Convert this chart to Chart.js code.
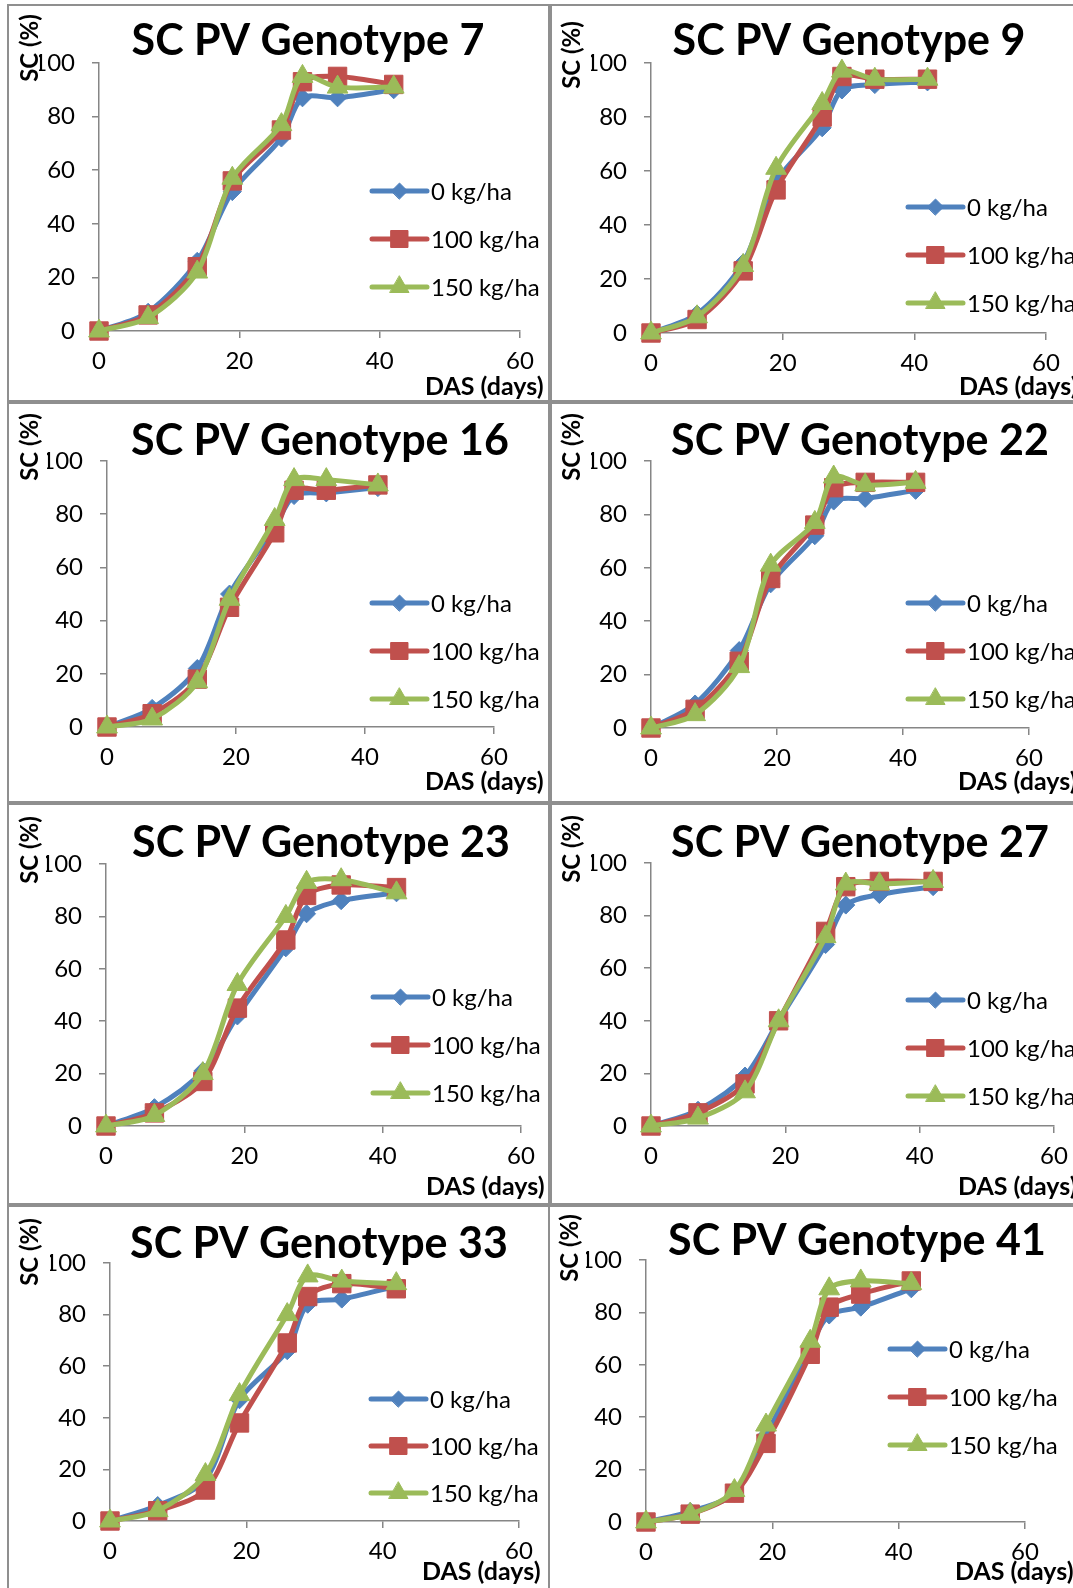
<!DOCTYPE html>
<html>
<head>
<meta charset="utf-8">
<script src="https://cdn.jsdelivr.net/npm/chart.js@4.4.0/dist/chart.umd.min.js"></script>
<style>
  html, body { margin: 0; padding: 0; background: #fff; }
  #page { position: relative; width: 1073px; height: 1588px; overflow: hidden; background: #fff; }
  .frame { position: absolute; box-sizing: border-box; border: 2px solid #8f8f8f; }
  canvas { position: absolute; }
</style>
</head>
<body>
<div id="page"></div>
<script>
// shared axes
const das = [0, 7, 14, 19, 26, 29, 34, 42];
const xTicks = [0, 20, 40, 60];
const yTicks = [0, 20, 40, 60, 80, 100];
const seriesLabels = ['0 kg/ha', '100 kg/ha', '150 kg/ha'];
const genotypes = ['7', '9', '16', '22', '23', '27', '33', '41'];

// SC (%) per genotype, one array per N rate
const g7_0 = [0, 7, 26, 52, 72, 87, 87, 90];
const g7_100 = [0, 6, 24, 56, 75, 93, 95, 92];
const g7_150 = [0, 5, 22, 57, 77, 95, 91, 91];

const g9_0 = [0, 7, 26, 56, 76, 90, 92, 93];
const g9_100 = [0, 5, 23, 53, 80, 95, 94, 94];
const g9_150 = [0, 6, 25, 61, 85, 97, 94, 94];

const g16_0 = [0, 7, 22, 50, 75, 87, 88, 90];
const g16_100 = [0, 5, 18, 45, 73, 89, 89, 91];
const g16_150 = [0, 3, 17, 48, 78, 93, 93, 91];

const g22_0 = [0, 9, 29, 54, 72, 85, 86, 89];
const g22_100 = [0, 7, 25, 56, 76, 90, 92, 92];
const g22_150 = [0, 5, 23, 61, 77, 94, 91, 92];

const g23_0 = [0, 7, 21, 42, 68, 81, 86, 89];
const g23_100 = [0, 5, 17, 45, 71, 88, 92, 91];
const g23_150 = [0, 4, 20, 54, 80, 93, 94, 89];

const g27_0 = [0, 6, 19, 40, 69, 84, 88, 91];
const g27_100 = [0, 5, 16, 40, 74, 91, 93, 93];
const g27_150 = [0, 3, 13, 40, 72, 92, 92, 93];

const g33_0 = [0, 6, 16, 47, 66, 84, 86, 91];
const g33_100 = [0, 4, 12, 38, 69, 87, 92, 90];
const g33_150 = [0, 4, 18, 49, 80, 95, 93, 92];

const g41_0 = [0, 4, 11, 33, 67, 79, 82, 89];
const g41_100 = [0, 3, 11, 30, 64, 82, 87, 92];
const g41_150 = [0, 3, 12, 37, 69, 89, 92, 91];

const values = {
  '7': [g7_0, g7_100, g7_150],
  '9': [g9_0, g9_100, g9_150],
  '16': [g16_0, g16_100, g16_150],
  '22': [g22_0, g22_100, g22_150],
  '23': [g23_0, g23_100, g23_150],
  '27': [g27_0, g27_100, g27_150],
  '33': [g33_0, g33_100, g33_150],
  '41': [g41_0, g41_100, g41_150]
};

// look of each series (Excel 2007 palette)
const seriesStyle = [
  { color: '#4F81BD', pointStyle: 'rectRot', radius: 9, legendRadius: 8, order: 3 },
  { color: '#C0504D', pointStyle: 'rect', radius: 13, legendRadius: 12, order: 2 },
  { color: '#9BBB59', pointStyle: 'triangle', radius: 12, legendRadius: 11, order: 1 }
];

// page layout of each pasted chart (page pixels)
// frame: [x, y, w, h]; plot: [left, top, right, bottom]
const layout = [
  { frame: [7, 4, 543, 398], plot: [99, 63, 520, 331], title: [308, 55], yTitle: [30, 48], xTitle: [425, 395], legend: [372, 191, 48] },
  { frame: [550, 4, 560, 398], plot: [651, 63, 1046, 333], title: [849, 55], yTitle: [572, 55], xTitle: [959, 395], legend: [908, 207, 48] },
  { frame: [7, 402, 543, 401], plot: [107, 461, 494, 727], title: [320, 455], yTitle: [30, 447], xTitle: [425, 790], legend: [372, 603, 48] },
  { frame: [550, 402, 560, 401], plot: [651, 461, 1029, 728], title: [860, 455], yTitle: [572, 447], xTitle: [958, 790], legend: [908, 603, 48] },
  { frame: [7, 803, 543, 402], plot: [106, 864, 521, 1126], title: [321, 857], yTitle: [30, 850], xTitle: [426, 1195], legend: [373, 997, 48] },
  { frame: [550, 803, 560, 402], plot: [651, 863, 1054, 1126], title: [860, 857], yTitle: [572, 849], xTitle: [958, 1195], legend: [908, 1000, 48] },
  { frame: [7, 1205, 543, 400], plot: [110, 1263, 519, 1521], title: [319, 1258], yTitle: [30, 1252], xTitle: [422, 1580], legend: [371, 1399, 47] },
  { frame: [548, 1205, 560, 400], plot: [646, 1260, 1025, 1522], title: [857, 1255], yTitle: [570, 1248], xTitle: [955, 1580], legend: [890, 1349, 48] }
];

const Y_AXIS_W = 60;
const X_AXIS_H = 45;
const axisGrey = '#868686';

Chart.defaults.font.family = 'Lato';
Chart.defaults.color = '#000';

// titles, axis titles and the overlaid legend, placed like the Excel originals
const panelText = {
  id: 'panelText',
  afterDraw(chart, args, opts) {
    const c = chart.ctx;
    const p = opts.panel;
    const ox = p.frame[0], oy = p.frame[1];
    c.save();
    c.fillStyle = '#000';
    c.font = 'bold 43px Lato';
    c.textAlign = 'center';
    c.textBaseline = 'alphabetic';
    c.fillText('SC PV Genotype ' + opts.name, p.title[0] - ox, p.title[1] - oy);

    c.save();
    c.translate(p.yTitle[0] - ox, p.yTitle[1] - oy);
    c.rotate(-Math.PI / 2);
    c.font = 'bold 24px Lato';
    c.textBaseline = 'middle';
    c.fillText('SC (%)', 0, 0);
    c.restore();

    c.textAlign = 'left';
    c.font = 'bold 25px Lato';
    c.fillText('DAS (days)', p.xTitle[0] - ox, p.xTitle[1] - oy);

    chart.data.datasets.forEach((ds, i) => {
      const st = seriesStyle[i];
      const x0 = p.legend[0] - ox;
      const y = p.legend[1] + i * p.legend[2] - oy;
      c.strokeStyle = st.color;
      c.lineWidth = 5;
      c.lineCap = 'round';
      c.beginPath();
      c.moveTo(x0, y);
      c.lineTo(x0 + 55, y);
      c.stroke();
      c.fillStyle = st.color;
      c.lineWidth = 1;
      Chart.helpers.drawPoint(c, { pointStyle: st.pointStyle, radius: st.legendRadius, borderWidth: 1, rotation: 0 }, x0 + 27.5, y);
      c.fillStyle = '#000';
      c.font = '24px Lato';
      c.textBaseline = 'middle';
      c.fillText(ds.label, x0 + 59, y + 1);
    });
    c.restore();
  }
};

const page = document.getElementById('page');

genotypes.forEach((g, idx) => {
  const p = layout[idx];
  const [fx, fy, fw, fh] = p.frame;
  const [pl, pt, pr, pb] = p.plot;

  const frame = document.createElement('div');
  frame.className = 'frame';
  frame.style.left = fx + 'px';
  frame.style.top = fy + 'px';
  frame.style.width = fw + 'px';
  frame.style.height = fh + 'px';
  page.appendChild(frame);

  const canvas = document.createElement('canvas');
  canvas.width = fw;
  canvas.height = fh;
  canvas.style.left = fx + 'px';
  canvas.style.top = fy + 'px';
  page.appendChild(canvas);

  const datasets = values[g].map((vals, i) => {
    const st = seriesStyle[i];
    return {
      label: seriesLabels[i],
      data: das.map((d, k) => ({ x: d, y: vals[k] })),
      borderColor: st.color,
      backgroundColor: st.color,
      borderWidth: 5,
      pointStyle: st.pointStyle,
      pointRadius: st.radius,
      pointBackgroundColor: st.color,
      pointBorderColor: st.color,
      pointBorderWidth: 1,
      tension: 0.3,
      clip: false,
      order: st.order
    };
  });

  new Chart(canvas, {
    type: 'line',
    data: { datasets },
    plugins: [panelText],
    options: {
      responsive: false,
      animation: false,
      devicePixelRatio: 1,
      layout: {
        padding: {
          left: pl - fx - Y_AXIS_W,
          top: pt - fy,
          right: fx + fw - pr,
          bottom: fy + fh - pb - X_AXIS_H
        }
      },
      scales: {
        x: {
          type: 'linear',
          min: 0,
          max: 60,
          afterBuildTicks: s => { s.ticks = xTicks.map(v => ({ value: v })); },
          afterFit: s => { s.height = X_AXIS_H; },
          grid: { drawOnChartArea: false, drawTicks: true, tickLength: 7, color: axisGrey, lineWidth: 1.5 },
          border: { color: axisGrey, width: 1.5 },
          ticks: { font: { size: 24 }, color: '#000', padding: 9, maxRotation: 0 }
        },
        y: {
          type: 'linear',
          min: 0,
          max: 100,
          afterBuildTicks: s => { s.ticks = yTicks.map(v => ({ value: v })); },
          afterFit: s => { s.width = Y_AXIS_W; },
          grid: { drawOnChartArea: false, drawTicks: true, tickLength: 7, color: axisGrey, lineWidth: 1.5 },
          border: { color: axisGrey, width: 1.5 },
          ticks: { font: { size: 24 }, color: '#000', padding: 17 }
        }
      },
      plugins: {
        legend: { display: false },
        title: { display: false },
        tooltip: { enabled: false },
        panelText: { panel: p, name: g }
      }
    }
  });
});
</script>
</body>
</html>
